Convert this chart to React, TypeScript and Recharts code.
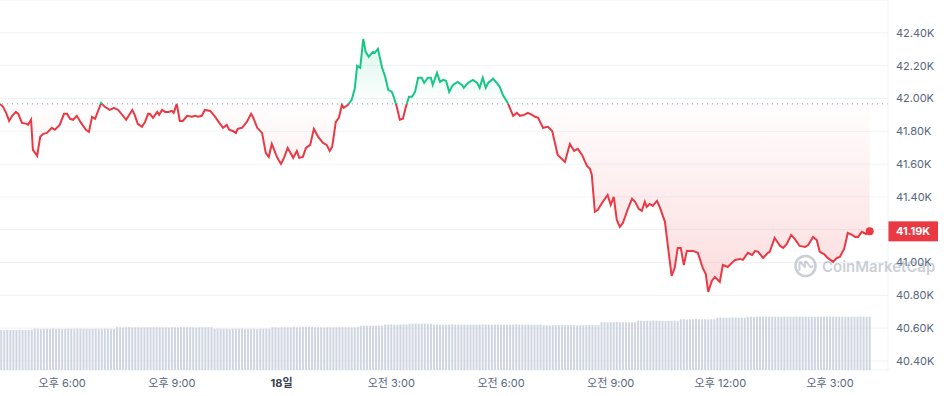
import React from 'react';
import {
  ComposedChart, Area, Bar, XAxis, YAxis, CartesianGrid, ReferenceLine, ReferenceDot,
} from 'recharts';

// minutes since 17일 00:00
const priceTimes = [
  978, 983, 988, 993, 998, 1004, 1008, 1014, 1022, 1024, 1029, 1032, 1039, 1044, 1049, 1055,
  1063, 1068, 1076, 1083, 1088, 1093, 1098, 1104, 1111, 1119, 1124, 1129, 1134, 1144, 1150,
  1158, 1165, 1172, 1185, 1195, 1199, 1204, 1211, 1216, 1221, 1224, 1229, 1236, 1239, 1244,
  1249, 1255, 1260, 1263, 1268, 1273, 1278, 1285, 1293, 1298, 1303, 1309, 1314, 1323, 1331,
  1339, 1344, 1350, 1354, 1360, 1365, 1368, 1375, 1383, 1390, 1393, 1400, 1408, 1414, 1419,
  1424, 1431, 1434, 1439, 1444, 1450, 1459, 1465, 1469, 1475, 1480, 1487, 1493, 1500, 1508,
  1514, 1519, 1523, 1529, 1534, 1539, 1542, 1549, 1555, 1560, 1564, 1569, 1574, 1578, 1583,
  1590, 1593, 1598, 1605, 1610, 1615, 1621, 1624, 1629, 1634, 1639, 1644, 1649, 1654, 1659,
  1664, 1670, 1674, 1680, 1685, 1688, 1695, 1700, 1705, 1710, 1715, 1720, 1724, 1729, 1736,
  1739, 1746, 1754, 1761, 1765, 1770, 1775, 1779, 1787, 1793, 1798, 1803, 1811, 1820, 1826,
  1831, 1838, 1844, 1851, 1856, 1861, 1869, 1877, 1884, 1893, 1905, 1913, 1920, 1926, 1933,
  1941, 1946, 1949, 1954, 1959, 1967, 1975, 1980, 1985, 1990, 1995, 2000, 2007, 2015, 2020,
  2026, 2031, 2036, 2039, 2044, 2049, 2056, 2061, 2069, 2074, 2080, 2085, 2090, 2095, 2100,
  2105, 2115, 2123, 2131, 2136, 2140, 2146, 2151, 2159, 2164, 2172, 2184, 2192, 2197, 2205,
  2212, 2217, 2222, 2230, 2238, 2241, 2249, 2258, 2263, 2269, 2276, 2282, 2290, 2299, 2304,
  2312, 2318, 2323, 2330, 2336, 2345, 2351, 2356, 2363, 2369, 2376, 2381, 2386, 2392, 2399, 2405,
];

const prices = [
  41967, 41949, 41912, 41863, 41894, 41918, 41906, 41851, 41845, 41839, 41870, 41687, 41650, 41766, 41784, 41790,
  41821, 41809, 41839, 41906, 41906, 41876, 41870, 41894, 41851, 41809, 41796, 41888, 41876, 41973, 41949,
  41930, 41943, 41930, 41870, 41930, 41900, 41845, 41827, 41857, 41906, 41906, 41882, 41918, 41900, 41930,
  41918, 41918, 41924, 41912, 41967, 41863, 41863, 41894, 41888, 41894, 41888, 41894, 41930, 41924, 41888,
  41845, 41821, 41839, 41809, 41802, 41790, 41815, 41821, 41857, 41906, 41888, 41821, 41790, 41668, 41644,
  41723, 41656, 41632, 41601, 41638, 41699, 41638, 41680, 41638, 41644, 41699, 41717, 41815, 41766, 41729,
  41717, 41680, 41705, 41857, 41882, 41961, 41943, 41961, 41991, 42059, 42199, 42187, 42363, 42284, 42254,
  42284, 42278, 42302, 42187, 42132, 42052, 42040, 42010, 41949, 41870, 41876, 41949, 42010, 42010, 42040,
  42126, 42126, 42095, 42126, 42126, 42083, 42156, 42101, 42113, 42107, 42040, 42077, 42089, 42101, 42083,
  42065, 42095, 42113, 42095, 42065, 42126, 42065, 42095, 42120, 42095, 42071, 42022, 41973, 41894, 41912,
  41894, 41900, 41912, 41900, 41888, 41882, 41821, 41827, 41802, 41656, 41613, 41723, 41680, 41693, 41656,
  41589, 41571, 41534, 41309, 41321, 41370, 41412, 41351, 41400, 41260, 41217, 41241, 41315, 41388, 41370,
  41327, 41315, 41370, 41339, 41357, 41345, 41376, 41333, 41248, 41095, 40918, 40967, 41089, 41089, 40985,
  41071, 41071, 41059, 40967, 40930, 40821, 40888, 40912, 40882, 40985, 40973, 41016, 41022, 41016, 41059,
  41046, 41071, 41065, 41028, 41059, 41065, 41150, 41101, 41089, 41113, 41168, 41144, 41101, 41095, 41107,
  41156, 41138, 41065, 41052, 41028, 41004, 41028, 41034, 41083, 41180, 41168, 41156, 41156, 41187, 41174, 41190,
];

// 24h volume, $B, one bar every 5 minutes from 16:20
const volumeStart = 980;
const volumeStep = 5;
const volumes = [
  21.7, 21.7, 21.7, 21.6, 21.7, 21.7, 21.8, 21.7, 21.7, 21.7, 21.8,
  22.3, 22.3, 22.2, 22.3, 22.3, 22.3, 22.4, 22.3, 22.3, 22.2, 22.3, 22.3, 22.3, 22.3,
  22.4, 22.3, 22.3, 22.3, 22.2, 22.3, 22.3, 22.3, 22.3, 22.4, 22.3, 22.3, 22.3,
  23.1, 23.1, 23.0, 23.1, 23.2, 23.1, 23.1, 23.1, 23.0, 23.1, 23.1, 23.1, 23.2, 23.1, 23.1, 23.1,
  23.1, 23.0, 23.1, 23.1, 23.1, 23.2, 23.1, 23.1, 23.1, 23.1, 23.0, 23.1, 23.1, 23.1, 23.1, 23.1,
  22.3, 22.4, 22.3, 22.3, 22.3, 22.2, 22.3, 22.3, 22.3, 22.4, 22.3, 22.3, 22.3, 22.3, 22.2, 22.3, 22.3, 22.4, 22.3,
  23.1, 23.1, 23.0, 23.1, 23.1, 23.1, 23.1, 23.2, 23.1, 23.1, 23.3, 23.3, 23.4, 23.3, 23.1,
  23.1, 23.1, 23.0, 23.1, 23.1, 23.1, 23.1, 23.2, 23.1, 23.1, 23.1, 23.1, 23.1, 23.2,
  23.9, 23.9, 24.0, 23.9, 23.9, 23.9, 24.0, 23.9,
  24.5, 24.5, 24.6, 24.5, 24.5, 24.5, 24.6, 24.5,
  25.0, 25.0, 25.1, 25.0, 25.0, 25.1, 25.0, 25.0,
  24.5, 24.5, 24.4, 24.5, 24.5, 24.5, 24.6, 24.5, 24.5, 24.5, 24.5, 24.4, 24.5, 24.5, 24.5, 24.5, 24.6, 24.5,
  24.5, 24.5, 24.5, 24.5, 24.4, 24.5, 24.5, 24.5, 24.5, 24.6, 24.5, 24.5, 24.5, 24.5, 24.4, 24.5, 24.5, 24.5,
  24.2, 24.2, 24.1, 24.2, 24.2, 24.2, 24.3, 24.2, 24.2, 24.2, 24.2, 24.1, 24.2, 24.2, 24.2, 24.3, 24.2, 24.2, 24.2,
  25.8, 25.8, 25.7, 25.8, 25.8, 25.9, 25.8, 25.8, 25.8, 25.7, 25.8, 25.8,
  26.6, 26.6, 26.5, 26.6, 26.6, 26.7, 26.6, 26.6, 26.6, 26.5, 26.6, 26.6, 26.7, 26.6,
  27.4, 27.4, 27.3, 27.4, 27.4, 27.5, 27.4, 27.4, 27.4, 27.3, 27.4, 27.4,
  28.3, 28.3, 28.2, 28.3, 28.3, 28.4, 28.3, 28.3, 28.3, 28.3,
  28.8, 28.8, 28.7, 28.8, 28.8, 28.8, 28.9, 28.8, 28.8, 28.8, 28.8, 28.7, 28.8, 28.8,
  28.8, 28.8, 28.9, 28.8, 28.8, 28.8, 28.8, 28.8, 28.7, 28.8, 28.8, 28.8, 28.8, 28.9,
  28.8, 28.8, 28.8, 28.8, 28.8, 28.7, 28.8, 28.8, 28.8, 28.9, 28.8, 28.8, 28.8,
];

const tickTimes = [1080, 1260, 1440, 1620, 1800, 1980, 2160, 2340];
const tickLabels = ['오후 6:00', '오후 9:00', '18일', '오전 3:00', '오전 6:00', '오전 9:00', '오후 12:00', '오후 3:00'];
const priceTicks = [40400, 40600, 40800, 41000, 41200, 41400, 41600, 41800, 42000, 42200, 42400];
const openPrice = 41967;

const GREEN = '#16c784';
const RED = '#ea3943';
const SUB = '#58667e';
const GRID = '#eff2f5';

type Row = { t: number; price?: number; volume?: number };
const rowMap = new Map<number, Row>();
priceTimes.forEach((t, i) => rowMap.set(t, { t, price: prices[i] }));
volumes.forEach((v, i) => {
  const t = volumeStart + i * volumeStep;
  const r = rowMap.get(t) ?? { t };
  r.volume = v;
  rowMap.set(t, r);
});
const data = [...rowMap.values()].sort((a, b) => a.t - b.t);

const maxP = Math.max(...prices);
const minP = Math.min(...prices);
const split = (maxP - openPrice) / (maxP - minP);
const lastT = priceTimes[priceTimes.length - 1];
const lastP = prices[prices.length - 1];

function TimeTick({ x, y, payload }: any) {
  const i = tickTimes.indexOf(payload.value);
  const label = tickLabels[i] ?? '';
  const isDay = label.endsWith('일');
  return (
    <text x={x} y={y} dy={9} textAnchor="middle" fontSize={11} fill={isDay ? '#3a4150' : SUB}
      fontWeight={isDay ? 700 : 400}>
      {label}
    </text>
  );
}

// the price badge covers the tick label it sits on
function PriceTick({ x, y, payload }: any) {
  if (Math.abs(payload.value - lastP) < 60) return null;
  return (
    <text x={x} y={y} dy="0.355em" textAnchor="start" fontSize={11} fill={SUB}>
      {(payload.value / 1000).toFixed(2)}K
    </text>
  );
}

function PriceBadge({ viewBox }: any) {
  if (!viewBox) return null;
  const x = viewBox.x + viewBox.width;
  const y = viewBox.y;
  return (
    <g>
      <rect x={x} y={y - 10} width={50} height={20} fill={RED} />
      <text x={x + 8} y={y} dy="0.36em" fontSize={11} fontWeight={700} fill="#fff">
        {(lastP / 1000).toFixed(2)}K
      </text>
    </g>
  );
}

function VolumeBar({ x, y, width, height }: any) {
  if (!height || height <= 0) return null;
  return <rect x={x + width / 2 - 1} y={y} width={2} height={height} fill="#cfd5e1" />;
}

export default function App() {
  return (
    <div style={{ position: 'absolute', left: 0, top: 0, width: 944, height: 396, background: '#fff',
      fontFamily: 'Inter, "Noto Sans CJK KR", sans-serif' }}>
      <ComposedChart width={944} height={396} data={data}
        margin={{ top: 0, right: 0, bottom: 0, left: 0 }}>
        <defs>
          <linearGradient id="lineGrad" x1="0" y1="0" x2="0" y2="1">
            <stop offset={0} stopColor={GREEN} />
            <stop offset={split} stopColor={GREEN} />
            <stop offset={split} stopColor={RED} />
            <stop offset={1} stopColor={RED} />
          </linearGradient>
          <linearGradient id="fillGrad" x1="0" y1="0" x2="0" y2="1">
            <stop offset={0} stopColor={GREEN} stopOpacity={0.28} />
            <stop offset={split} stopColor={GREEN} stopOpacity={0.01} />
            <stop offset={split} stopColor={RED} stopOpacity={0.01} />
            <stop offset={1} stopColor={RED} stopOpacity={0.3} />
          </linearGradient>
        </defs>
        <CartesianGrid yAxisId="price" vertical={false} stroke={GRID} />
        <XAxis dataKey="t" type="number" domain={[978, 2435]} ticks={tickTimes} interval={0}
          allowDataOverflow axisLine={false} tickLine={false} height={26} tick={<TimeTick />} />
        <YAxis yAxisId="price" orientation="right" width={56} domain={[40345, 42600]}
          allowDataOverflow ticks={priceTicks} interval={0}
          axisLine={{ stroke: GRID }} tickLine={false} tick={<PriceTick />} />
        <YAxis yAxisId="vol" hide domain={[0, 200]} />
        <Bar yAxisId="vol" dataKey="volume" shape={<VolumeBar />} isAnimationActive={false} />
        <ReferenceLine yAxisId="price" y={openPrice} stroke="#8a94a6" strokeDasharray="1 4"
          strokeWidth={1} />
        <Area yAxisId="price" type="linear" dataKey="price" baseValue={openPrice} connectNulls
          stroke="url(#lineGrad)" strokeWidth={2} fill="url(#fillGrad)" dot={false}
          activeDot={false} isAnimationActive={false} />
        <ReferenceDot yAxisId="price" x={lastT} y={lastP} r={4} fill={RED} stroke="none" />
        <ReferenceLine yAxisId="price" y={lastP} stroke="none" label={<PriceBadge />} />
      </ComposedChart>
      <svg width={944} height={396} style={{ position: 'absolute', left: 0, top: 0, pointerEvents: 'none' }}>
        <g opacity={0.4}>
          <circle cx={805.5} cy={266} r={10} fill="none" stroke="#808a9d" strokeWidth={2.6} />
          <path d="M799.5 270 V263.5 Q799.5 261 801.5 263 L805 267 V262.5 Q805 260.5 807 262.5 L810 266.5 Q811.5 268 812.5 266"
            fill="none" stroke="#808a9d" strokeWidth={2} strokeLinecap="round" strokeLinejoin="round" />
          <text x={822} y={272} fontSize={15} fontWeight={600} fill="#808a9d"
            fontFamily='Inter, sans-serif'>CoinMarketCap</text>
        </g>
      </svg>
    </div>
  );
}
